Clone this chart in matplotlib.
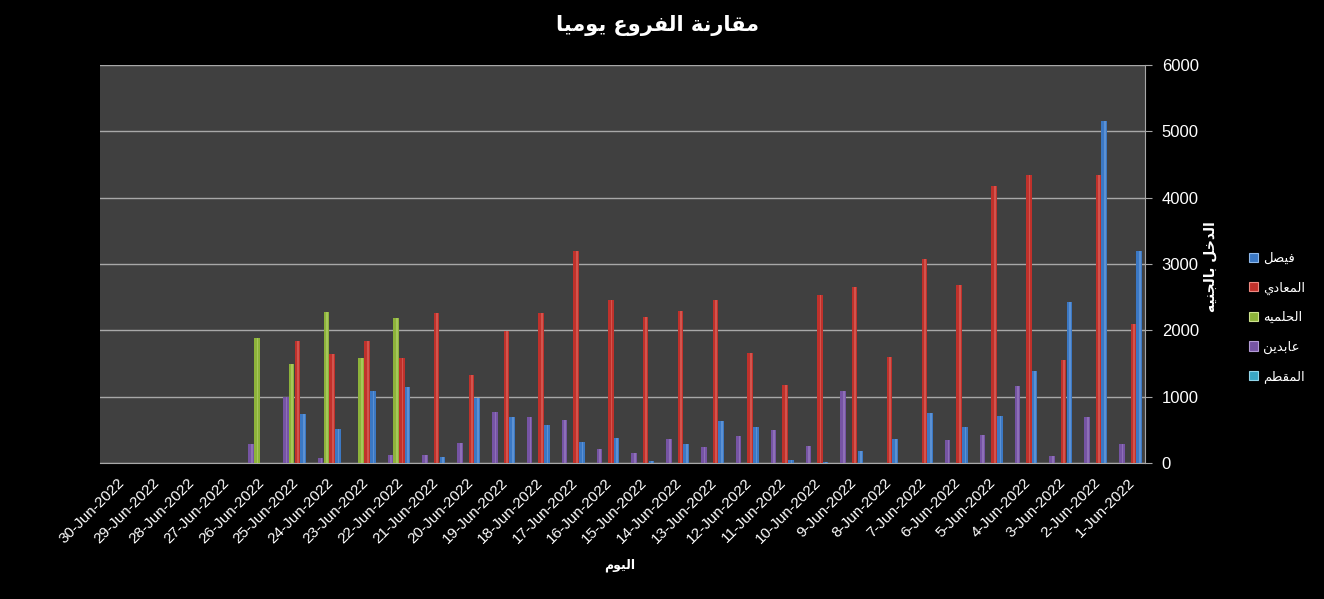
"""Daily branch comparison chart (June 2022), Excel-style dark theme."""

import matplotlib
matplotlib.use("Agg")
import matplotlib.pyplot as plt
from matplotlib.patches import Patch
import numpy as np

DAYS = list(range(1, 31))
DAY_LABELS = [f"{d}-Jun-2022" for d in DAYS]

# values per day, 1-Jun .. 30-Jun
FAISAL = [3200, 5150, 2430, 1390, 710, 545, 750, 360, 185, 20,
          40, 550, 640, 280, 25, 380, 320, 580, 700, 980,
          95, 1150, 1090, 520, 745, 0, 0, 0, 0, 0]
MAADI = [2090, 4340, 1550, 4340, 4170, 2680, 3075, 1595, 2660, 2540,
         1175, 1665, 2455, 2290, 2205, 2450, 3200, 2257, 1990, 1330,
         2257, 1590, 1840, 1650, 1840, 0, 0, 0, 0, 0]
HELMEYA = [0, 0, 0, 0, 0, 0, 0, 0, 0, 0,
           0, 0, 0, 0, 0, 0, 0, 0, 0, 0,
           0, 2180, 1590, 2280, 1500, 1890, 0, 0, 0, 0]
ABDEEN = [285, 690, 100, 1165, 420, 347, 0, 0, 1090, 250,
          490, 412, 248, 357, 145, 205, 645, 690, 775, 302,
          126, 126, 0, 75, 995, 282, 0, 0, 0, 0]
MOQATTAM = [0] * 30

SERIES_NAMES = ["فيصل", "المعادي", "الحلميه", "عابدين", "المقطم"]
SERIES_VALUES = [FAISAL, MAADI, HELMEYA, ABDEEN, MOQATTAM]
COLORS = ["#3b78c4", "#c0312b", "#8db33a", "#7654a4", "#3aa6c4"]
HILITE = ["#8fb8ea", "#ee8a82", "#cde38f", "#b39bd6", "#93d6ea"]

TITLE = "مقارنة الفروع يوميا"
Y_LABEL = "الدخل بالجنيه"
X_LABEL = "اليوم"

# --- minimal Arabic shaping (presentation forms + visual order) -------------
DUAL = {"ب": 0xFE8F, "ت": 0xFE95, "ج": 0xFE9D, "ح": 0xFEA1, "خ": 0xFEA5,
        "ص": 0xFEB9, "ط": 0xFEC1, "ع": 0xFEC9, "ف": 0xFED1, "ق": 0xFED5,
        "ل": 0xFEDD, "م": 0xFEE1, "ن": 0xFEE5, "ه": 0xFEE9, "ي": 0xFEF1}
RIGHT = {"ا": 0xFE8D, "ة": 0xFE93, "د": 0xFEA9, "ر": 0xFEAD, "و": 0xFEED}


def ar(text: str) -> str:
    out = []
    for i, ch in enumerate(text):
        if ch not in DUAL and ch not in RIGHT:
            out.append(ch)
            continue
        prev = text[i - 1] if i > 0 else ""
        nxt = text[i + 1] if i + 1 < len(text) else ""
        join_prev = prev in DUAL
        join_next = ch in DUAL and (nxt in DUAL or nxt in RIGHT)
        base = DUAL.get(ch, RIGHT.get(ch))
        if join_prev and join_next:
            code = base + 3
        elif join_next:
            code = base + 2
        elif join_prev:
            code = base + 1
        else:
            code = base
        out.append(chr(code))
    return "".join(reversed(out))


def main() -> None:
    plt.rcParams["font.family"] = ["DejaVu Sans"]
    fig = plt.figure(figsize=(13.24, 5.99), dpi=100, facecolor="black")
    ax = fig.add_axes([100 / 1324, 136 / 599, 1045 / 1324, 398 / 599])
    ax.set_facecolor("#404040")

    x = np.array(DAYS, dtype=float)
    step, width = 0.165, 0.16
    for k, (vals, col, hi) in enumerate(zip(SERIES_VALUES, COLORS, HILITE)):
        xs = x + (k - 2) * step
        v = np.array(vals, dtype=float)
        ax.bar(xs, v, width=width, color=col, linewidth=0, zorder=3)
        # light stripe to mimic Excel's shaded columns
        ax.bar(xs - width * 0.12, v, width=width * 0.3, color=hi,
               alpha=0.4, linewidth=0, zorder=4)

    ax.set_xlim(30.5, 0.5)
    ax.set_ylim(0, 6000)
    ax.set_yticks(range(0, 6001, 1000))
    ax.yaxis.tick_right()
    ax.grid(True, axis="y", color="#a8a8a8", linewidth=1, zorder=1)
    ax.set_axisbelow(True)

    ax.set_xticks(x)
    ax.set_xticklabels(DAY_LABELS, rotation=45, ha="right",
                       rotation_mode="anchor", fontsize=11,
                       family="Liberation Sans", color="white")
    ax.tick_params(axis="x", length=0, pad=9)
    ax.tick_params(axis="y", colors="#a8a8a8", labelcolor="white",
                   labelsize=12, length=5, pad=7)
    for lbl in ax.get_yticklabels():
        lbl.set_family("Liberation Sans")

    for side in ("top", "left"):
        ax.spines[side].set_visible(False)
    ax.spines["bottom"].set_color("#a8a8a8")
    ax.spines["right"].set_color("#a8a8a8")

    fig.text(657 / 1324, 1 - 26 / 599, ar(TITLE), color="white",
             fontsize=15, fontweight="bold", ha="center", va="center")
    fig.text(1210 / 1324, 1 - 267 / 599, ar(Y_LABEL), color="white",
             fontsize=10, fontweight="bold", rotation=90,
             ha="center", va="center")
    fig.text(620 / 1324, 1 - 565 / 599, ar(X_LABEL), color="white",
             fontsize=9, fontweight="bold", ha="center", va="center")

    handles = [Patch(facecolor=c, edgecolor=h, linewidth=0.8)
               for c, h in zip(COLORS, HILITE)]
    fig.legend(handles, [ar(s) for s in SERIES_NAMES],
               loc="upper left", bbox_to_anchor=(1237 / 1324, 1 - 240 / 599),
               frameon=False, labelcolor="white", fontsize=9.5,
               handlelength=0.7, handleheight=0.7, handletextpad=0.4,
               labelspacing=1.25)

    fig.savefig("out.png", dpi=100, facecolor="black")
    plt.close(fig)


if __name__ == "__main__":
    main()
